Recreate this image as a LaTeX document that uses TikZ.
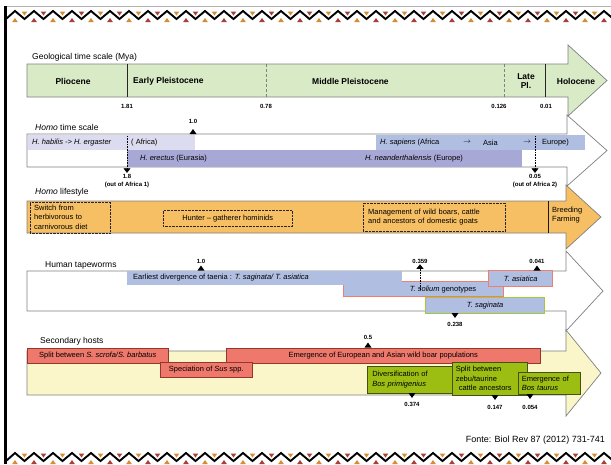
\documentclass[tikz,border=0pt]{standalone}
\usepackage{fontspec}
\setmainfont{Liberation Sans}
\usetikzlibrary{arrows.meta}

\definecolor{geogreen}{RGB}{217,234,199}
\definecolor{lavlight}{RGB}{220,220,240}
\definecolor{lavmid}{RGB}{168,168,214}
\definecolor{bluelt}{RGB}{176,190,226}
\definecolor{lifeorange}{RGB}{246,191,100}
\definecolor{boarred}{RGB}{238,120,108}
\definecolor{boaredge}{RGB}{150,55,45}
\definecolor{solredge}{RGB}{240,125,110}
\definecolor{bosgreen}{RGB}{156,190,18}
\definecolor{bosedge}{RGB}{70,80,20}
\definecolor{hostyellow}{RGB}{250,246,202}
\definecolor{sagedge}{RGB}{165,200,55}
\definecolor{zigorange}{RGB}{214,140,50}
\definecolor{zigred}{RGB}{168,62,55}

\tikzset{
  upmark/.pic={\fill (-3.5,0) -- (3.5,0) -- (0,-5) -- cycle;},
  downmark/.pic={\fill (-3.5,0) -- (3.5,0) -- (0,5) -- cycle;}
}

% band with arrow head: style, top, bottom, head x, head top, head bottom, tip x
\newcommand{\bandarrow}[7]{%
  \draw[#1] (27,#2) -- (#4,#2) -- (#4,#5) -- (#7,{(#5+#6)/2}) -- (#4,#6) -- (#4,#3) -- (27,#3) -- cycle;}

\begin{document}
\begin{tikzpicture}[x=1pt,y=-1pt,
    sect/.style={anchor=west,inner sep=0pt,font=\fontsize{8.5}{10}\selectfont},
    era/.style={inner sep=0pt,align=center,font=\bfseries\fontsize{8.5}{9.5}\selectfont},
    num/.style={inner sep=0pt,align=center,font=\bfseries\fontsize{6}{7.5}\selectfont},
    txt/.style={inner sep=0pt,font=\fontsize{7.5}{9.5}\selectfont},
    box/.style={anchor=north west,inner sep=0pt,font=\fontsize{7.5}{9.5}\selectfont},
    outline/.style={draw=gray,line width=0.7pt},
    drop/.style={densely dotted,line width=0.6pt,-{Triangle[width=7pt,length=4.5pt]}}]
\useasboundingbox (0,0) rectangle (611,464);
\fill[white] (0,0) rectangle (611,464);

% frame and zigzag borders
\draw[gray!60,line width=1.2pt] (5,6.5) -- (611,6.5);
\foreach \row in {0,442}{
  \draw[line width=1.9pt] (6,{19+\row}) \foreach \k in {0,...,31}{ -- ({15+19*\k},{11+\row}) -- ({24.5+19*\k},{19+\row}) };
}
\foreach \k [evaluate=\k as \xv using 24.5+19*\k, evaluate=\k as \xp using 15+19*\k] in {0,...,31}{
  \ifodd\k \def\zc{zigred}\else\def\zc{zigorange}\fi
  \foreach \row in {0,442}{
    \fill[\zc] (\xv-2.8,11.5+\row) -- (\xv+2.8,11.5+\row) -- (\xv,15.5+\row) -- cycle;
    \fill[\zc] (\xp-2.8,22+\row) -- (\xp+2.8,22+\row) -- (\xp,18+\row) -- cycle;
  }
}
\draw[line width=2.5pt] (5.5,6) -- (5.5,464);

% geological time scale
\node[sect] (geo) at (32,57) {Geological time scale (Mya)};
\bandarrow{outline,fill=geogreen}{64}{97}{568}{45}{116}{607}
\draw[gray!30!black,line width=0.6pt] (127,64) -- (127,97);
\draw[gray,densely dashed,line width=0.6pt] (266,64) -- (266,97);
\draw[gray,densely dashed,line width=0.6pt] (504,64) -- (504,97);
\draw[gray!30!black,line width=0.6pt] (545,64) -- (545,97);
\node[era] (plio) at (73,81) {Pliocene};
\node[era,anchor=west] (early) at (133,81) {Early Pleistocene};
\node[era,anchor=west] (middle) at (312,81) {Middle Pleistocene};
\node[era] (late) at (526,81) {Late\\Pl.};
\node[era] (holo) at (576,81) {Holocene};
\node[num] (g181) at (127,106) {1.81};
\node[num] (g078) at (266,106) {0.78};
\node[num] (g0126) at (499,106) {0.126};
\node[num] (g001) at (546,106) {0.01};

% Homo time scale
\node[sect] (homo) at (35,127) {\textit{Homo} time scale};
\bandarrow{outline,fill=white}{134}{167}{567}{115}{186}{607}
\fill[lavlight] (28,134.5) rectangle (195,150);
\fill[lavmid] (127,150) rectangle (522,166.5);
\fill[bluelt] (376,134.5) rectangle (585,150);
\node[txt,anchor=west] (habilis) at (32,142.5) {\textit{H. habilis -> H. ergaster}};
\node[txt,anchor=west] (africa) at (131,142.5) {( Africa)};
\node[txt,anchor=west] (erectus) at (140,158.5) {\textit{H. erectus} (Eurasia)};
\node[txt] (neander) at (414,158.5) {\textit{H. neanderthalensis} (Europe)};
\node[txt,anchor=west] (sapiens) at (380,142.5) {\textit{H. sapiens} (Africa};
\node[txt] (arr1) at (467,142.5) {$\rightarrow$};
\node[txt,anchor=west] (asia) at (483,142.5) {Asia};
\node[txt] (arr2) at (527,142.5) {$\rightarrow$};
\node[txt,anchor=west] (europe) at (542,142.5) {Europe)};
\node[num] (h10) at (193,121) {1.0};
\pic at (193,134) {upmark};
\coordinate (oa1top) at (127,136);
\coordinate (oa2top) at (535,136);
\node[num] (oa1) at (127,181) {1.8\\(out of Africa 1)};
\node[num] (oa2) at (535,181) {0.05\\(out of Africa 2)};
\draw[drop] (oa1top) -- ([yshift=1.5pt]oa1.north);
\draw[drop] (oa2top) -- ([yshift=1.5pt]oa2.north);

% Homo lifestyle
\node[sect] (life) at (35,192) {\textit{Homo} lifestyle};
\bandarrow{outline,fill=lifeorange}{201}{233}{566}{185}{249}{601}
\node[box,draw=gray!30!black,densely dotted,minimum width=80pt,minimum height=31pt,text width=72pt,align=left] (switch) at (30,201.5) {Switch from\\herbivorous to\\carnivorous diet};
\node[box,draw=gray!30!black,densely dotted,minimum width=129pt,minimum height=16pt] (hunter) at (163,210) {Hunter – gatherer hominids};
\node[box,draw=gray!30!black,densely dotted,minimum width=142pt,minimum height=28pt,text width=132pt,align=left] (manage) at (363,203) {Management of wild boars, cattle\\and ancestors of domestic goats};
\draw[gray!20!black,line width=0.6pt] (548,201) -- (548,233);
\node[txt,anchor=west,align=left] (breed) at (552,215) {Breeding\\Farming};

% Human tapeworms
\node[sect] (tape) at (45,265) {Human tapeworms};
\bandarrow{outline,fill=white}{271}{311}{566}{251}{331}{603}
\node[box,fill=bluelt,draw=solredge,line width=1.4pt,minimum width=160pt,minimum height=15pt] (solium) at (343,281) {};
\node[box,fill=bluelt,minimum width=275pt,minimum height=14pt] (earliest) at (127,271) {};
\node[txt,anchor=west] (earliesttxt) at (133,278) {Earliest divergence of taenia : \textit{T. saginata/ T. asiatica}};
\node[txt] (soliumtxt) at (443,289.5) {\textit{T. solium} genotypes};
\node[box,fill=bluelt,draw=solredge,line width=1.4pt,minimum width=64pt,minimum height=16pt] (asiatica) at (488,270) {\textit{T. asiatica}};
\node[box,fill=bluelt,draw=sagedge,line width=1.4pt,minimum width=119pt,minimum height=16pt] (saginata) at (425,297) {\textit{T. saginata}};
\node[num] (t10) at (201,261) {1.0};
\pic at (201,270.5) {upmark};
\node[num] (t359) at (420,261) {0.359};
\coordinate (soltop) at (420,290);
\draw[drop] (soltop) -- ([yshift=-1pt]t359.south);
\node[num] (t041) at (537,261) {0.041};
\pic at (537,270.5) {upmark};
\pic at (455,313) {downmark};
\node[num] (t238) at (455,324.5) {0.238};

% Secondary hosts
\node[sect] (hosts) at (40,341) {Secondary hosts};
\bandarrow{outline,fill=hostyellow}{351}{395}{566}{330}{416}{601}
\node[box,fill=boarred,draw=boaredge,line width=0.6pt,minimum width=141pt,minimum height=15pt] (split) at (27,347.5) {Split between \textit{S. scrofa/S. barbatus}};
\node[box,fill=boarred,draw=boaredge,line width=0.6pt,minimum width=314pt,minimum height=15pt] (wildboar) at (226,347.5) {Emergence of European and Asian wild boar populations};
\node[box,fill=boarred,draw=boaredge,line width=0.6pt,minimum width=92pt,minimum height=15pt] (sus) at (160,362) {Speciation of \textit{Sus} spp.};
\node[num] (h05) at (368,337.5) {0.5};
\pic at (368,347.5) {upmark};
\node[box,fill=bosgreen,draw=bosedge,line width=0.6pt,minimum width=85pt,minimum height=27pt,text width=75pt,align=left] (primi) at (367,366) {Diversification of\\\textit{Bos primigenius}};
\node[box,fill=bosgreen,draw=bosedge,line width=0.6pt,minimum width=75pt,minimum height=33pt,text width=68pt,align=left] (zebu) at (452,362) {Split between\\zebu/taurine\\\hspace*{3pt}cattle ancestors};
\node[box,fill=bosgreen,draw=bosedge,line width=0.6pt,minimum width=62pt,minimum height=22pt,text width=55pt,align=left] (taurus) at (518,372) {Emergence of\\\textit{Bos taurus}};
\pic at (412,393) {downmark};
\node[num] (b374) at (412,404.5) {0.374};
\pic at (495,395) {downmark};
\node[num] (b147) at (495,407.5) {0.147};
\pic at (530,394) {downmark};
\node[num] (b054) at (530,407.5) {0.054};

\node[anchor=east,inner sep=0pt,font=\fontsize{9}{10}\selectfont] (source) at (605,440) {Fonte: Biol Rev 87 (2012) 731-741};
\end{tikzpicture}
\end{document}
